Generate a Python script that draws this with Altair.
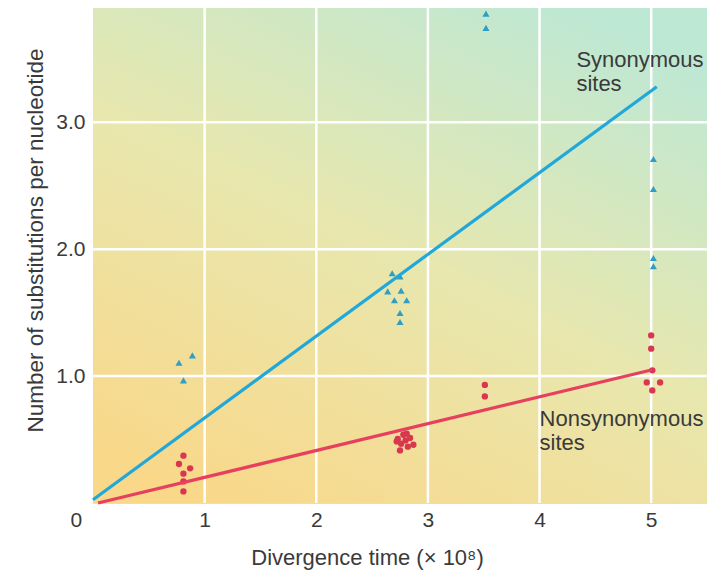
import altair as alt
import pandas as pd

# ---- data ----
syn_x = [0.77, 0.89, 0.81, 2.68, 2.75, 2.64, 2.76, 2.70, 2.81, 2.75, 2.75,
         3.52, 3.52, 5.02, 5.02, 5.02, 5.02]
syn_y = [1.105, 1.163, 0.966, 1.81, 1.786, 1.667, 1.673, 1.597, 1.597, 1.497, 1.426,
         3.856, 3.743, 2.71, 2.474, 1.93, 1.865]

non_x = [0.81, 0.77, 0.87, 0.81, 0.81, 0.81,
         2.73, 2.78, 2.81, 2.84, 2.80, 2.76, 2.72, 2.87, 2.75, 2.82,
         3.51, 3.51,
         5.00, 5.00, 5.01, 4.96, 5.08, 5.01]
non_y = [0.373, 0.307, 0.273, 0.231, 0.17, 0.091,
         0.504, 0.538, 0.546, 0.512, 0.493, 0.467, 0.485, 0.459, 0.414, 0.444,
         0.93, 0.84,
         1.32, 1.216, 1.045, 0.95, 0.95, 0.887]

syn_line_x = [0.0, 5.05]
syn_line_y = [0.026, 3.28]
non_line_x = [0.045, 5.01]
non_line_y = [0.0, 1.05]

x_ticks = [0, 1, 2, 3, 4, 5]
x_grid = [1, 2, 3, 4, 5]
y_ticks = [1, 2, 3]

label_text = ["Synonymous", "sites", "Nonsynonymous", "sites"]
label_x = [4.33, 4.33, 4.0, 4.0]
label_y = [3.438, 3.249, 0.604, 0.42]

x_title = "Divergence time (\u00d7 10\u2078)"
y_title = "Number of substitutions per nucleotide"

# ---- styling ----
FONT = "Liberation Sans"
TXT = "#3a3a3a"
W, H = 614, 495

xscale = alt.Scale(domain=[0, 5.5], nice=False, zero=False)
yscale = alt.Scale(domain=[0, 3.9], nice=False, zero=False)

xaxis = alt.Axis(
    values=x_ticks, format="d", grid=False, ticks=False, domain=False,
    labelFont=FONT, labelFontSize=21, labelColor=TXT, labelPadding=6,
    labelOffset={"condition": {"test": "datum.value == 0", "value": -23}, "value": 0},
    title=x_title, titleFont=FONT, titleFontSize=22, titleFontWeight="normal",
    titleColor=TXT, titleX=274, titleY=54, titleAlign="center", titleBaseline="middle",
)
yaxis = alt.Axis(
    values=y_ticks, format=".1f", grid=False, ticks=False, domain=False,
    labelFont=FONT, labelFontSize=21, labelColor=TXT, labelPadding=8,
    title=y_title, titleFont=FONT, titleFontSize=22.5, titleFontWeight="normal",
    titleColor=TXT, titleAngle=270, titleX=-58, titleY=232,
    titleAlign="center", titleBaseline="middle",
)

X = alt.X("x:Q", scale=xscale, axis=xaxis)
Y = alt.Y("y:Q", scale=yscale, axis=yaxis)

grad = alt.Gradient(
    gradient="linear",
    stops=[
        alt.GradientStop(color="#f9d88a", offset=0),
        alt.GradientStop(color="#e8e7ae", offset=0.5),
        alt.GradientStop(color="#bde8d4", offset=1),
    ],
    x1=0.2, y1=1, x2=0.8, y2=0,
)

bg = alt.Chart(pd.DataFrame({"a": [0]})).mark_rect(fill=grad).encode(
    x=alt.value(0), x2=alt.value(W), y=alt.value(0), y2=alt.value(H)
)

vgrid = alt.Chart(pd.DataFrame({"x": x_grid})).mark_rule(
    color="white", strokeWidth=2.5).encode(x=X)
hgrid = alt.Chart(pd.DataFrame({"y": y_ticks})).mark_rule(
    color="white", strokeWidth=2.5).encode(y=Y)

syn_pts = alt.Chart(pd.DataFrame({"x": syn_x, "y": syn_y})).mark_point(
    shape="triangle-up", filled=True, size=50, color="#2f9ec6", opacity=1
).encode(x=X, y=Y)
non_pts = alt.Chart(pd.DataFrame({"x": non_x, "y": non_y})).mark_point(
    shape="circle", filled=True, size=40, color="#d93650", opacity=1
).encode(x=X, y=Y)

syn_line = alt.Chart(pd.DataFrame({"x": syn_line_x, "y": syn_line_y})).mark_line(
    color="#22a8d8", strokeWidth=3.2).encode(x=X, y=Y)
non_line = alt.Chart(pd.DataFrame({"x": non_line_x, "y": non_line_y})).mark_line(
    color="#e6405e", strokeWidth=3.2).encode(x=X, y=Y)

labels = alt.Chart(pd.DataFrame({"x": label_x, "y": label_y, "t": label_text})).mark_text(
    align="left", baseline="alphabetic", font=FONT, fontSize=22, color=TXT
).encode(x=X, y=Y, text="t:N")

chart = alt.layer(
    bg, vgrid, hgrid, syn_pts, non_pts, syn_line, non_line, labels
).properties(
    width=W, height=H,
    autosize=alt.AutoSizeParams(type="none"),
    padding={"left": 85, "top": 0, "right": 0, "bottom": 68},
).configure_view(
    stroke="#555555", strokeWidth=1.6
).configure(background="white")

chart.save("out.html", embed_options={"renderer": "svg", "actions": False})
